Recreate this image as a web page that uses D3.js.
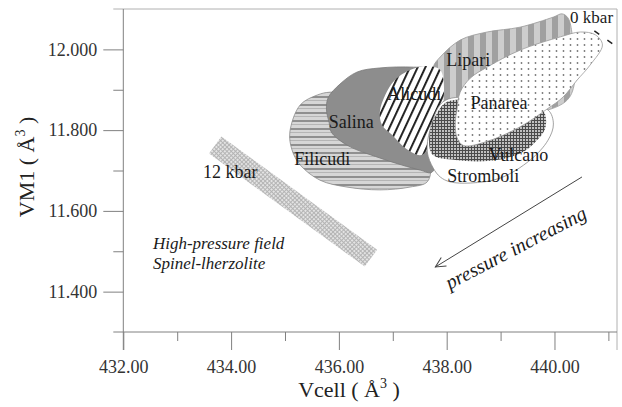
<!DOCTYPE html>
<html>
<head>
<meta charset="utf-8">
<script src="https://cdn.jsdelivr.net/npm/d3@7"></script>
<style>
  body { margin: 0; background: #fff; }
  svg { display: block; font-family: "Liberation Serif", "Times New Roman", serif; }
</style>
</head>
<body>
<svg id="chart" width="622" height="407"></svg>
<script>
// axis ticks
const xTicks = [432, 434, 436, 438, 440];
const xMinorTicks = [433, 435, 437, 439, 441];
const yTicks = [11.4, 11.6, 11.8, 12.0];
const yMinorTicks = [11.5, 11.7, 11.9];

// field outlines, [Vcell, VM1]
const filicudi = [[435.09,11.795],[435.28,11.862],[435.60,11.887],[435.84,11.894],[436.39,11.887],[437.14,11.825],
  [437.69,11.714],[437.64,11.672],[437.32,11.659],[436.76,11.652],[436.15,11.659],[435.65,11.676],[435.28,11.714],[435.13,11.751]];
const salina = [[435.80,11.880],[436.02,11.914],[436.34,11.944],[436.76,11.954],[437.38,11.956],[437.79,11.949],
  [437.88,11.825],[437.73,11.696],[437.51,11.701],[436.76,11.731],[436.15,11.763],[435.86,11.795],[435.82,11.818],[435.77,11.850]];
const lipari = [[437.75,11.870],[437.75,11.956],[437.88,11.981],[438.25,12.023],[438.75,12.043],[439.36,12.055],[439.98,12.080],
  [440.14,12.088],[440.25,12.078],[440.33,12.036],[440.38,11.924],[440.24,11.875],[439.73,11.845],[438.44,11.840],[437.95,11.850]];
const alicudi = [[436.76,11.845],[436.86,11.887],[437.04,11.924],[437.32,11.949],[437.64,11.959],[437.88,11.949],[437.95,11.904],
  [437.92,11.862],[437.79,11.800],[437.64,11.751],[437.51,11.738],[437.23,11.756],[436.99,11.788],[436.80,11.813]];
const stromboli = [[437.93,11.870],[437.69,11.800],[437.64,11.746],[437.75,11.706],[437.88,11.684],[438.06,11.672],[438.44,11.669],
  [438.99,11.681],[439.55,11.726],[439.88,11.775],[439.98,11.815],[439.88,11.850],[439.36,11.862],[438.44,11.882]];
const vulcano = [[438.01,11.870],[437.80,11.837],[437.69,11.800],[437.73,11.740],[438.16,11.726],[438.81,11.724],[439.36,11.742],
  [439.64,11.770],[439.83,11.805],[439.79,11.848],[439.36,11.860],[438.62,11.872]];
const panarea = [[438.19,11.850],[438.25,11.894],[438.44,11.929],[438.75,11.956],[439.36,11.998],[440.11,12.031],[440.48,12.043],
  [440.76,12.036],[440.89,12.011],[440.66,11.961],[440.42,11.924],[440.16,11.882],[439.86,11.852],[439.36,11.808],[438.75,11.772],
  [438.31,11.762],[438.19,11.782],[438.16,11.820]];
const highPressureBand = [[433.82,11.784],[436.71,11.504],[436.48,11.462],[433.59,11.742]];
const pressureArrow = [[440.51,11.684],[437.79,11.461]];
const zeroKbarLine = [[440.74,12.046],[441.16,12.006]];

// field labels
const labelNames = ["Filicudi", "Salina", "Alicudi", "Lipari", "Panarea", "Vulcano", "Stromboli"];
const labelX = [435.69, 436.23, 437.40, 438.40, 438.97, 439.33, 438.68];
const labelY = [11.714, 11.805, 11.875, 11.959, 11.852, 11.724, 11.672];

const svg = d3.select("#chart");

const x = d3.scaleLinear().domain([432, 441.16]).range([123.3, 617]);
const y = d3.scaleLinear().domain([11.3, 12.1]).range([332, 9]);

// patterns
const defs = svg.append("defs");
function pattern(id, w, h, tf) {
  const p = defs.append("pattern").attr("id", id)
    .attr("patternUnits", "userSpaceOnUse").attr("width", w).attr("height", h);
  if (tf) p.attr("patternTransform", tf);
  return p;
}
let p = pattern("pFil", 8, 8);
p.append("rect").attr("width", 8).attr("height", 8).attr("fill", "#d6d6d6");
p.append("rect").attr("width", 8).attr("height", 2).attr("fill", "#8f8f8f");
p.append("rect").attr("y", 4).attr("width", 8).attr("height", 1).attr("fill", "#b5b5b5");

p = pattern("pAli", 7, 8, "rotate(25)");
p.append("rect").attr("width", 7).attr("height", 8).attr("fill", "#fff");
p.append("rect").attr("width", 1.9).attr("height", 8).attr("fill", "#1a1a1a");

p = pattern("pLip", 12, 10);
p.append("rect").attr("width", 12).attr("height", 10).attr("fill", "#cdcdcd");
p.append("rect").attr("width", 6).attr("height", 10).attr("fill", "#a0a0a0");

p = pattern("pPan", 7, 6);
p.append("rect").attr("width", 7).attr("height", 6).attr("fill", "#fff");
p.append("circle").attr("cx", 3.5).attr("cy", 3).attr("r", 0.9).attr("fill", "#777");

p = pattern("pVul", 3, 3);
p.append("rect").attr("width", 3).attr("height", 3).attr("fill", "#c0c0c0");
p.append("rect").attr("width", 1).attr("height", 3).attr("fill", "#4a4a4a");
p.append("rect").attr("width", 3).attr("height", 1).attr("fill", "#4a4a4a");

p = pattern("pBand", 3, 3, "rotate(45)");
p.append("rect").attr("width", 3).attr("height", 3).attr("fill", "#e4e4e4");
p.append("rect").attr("width", 1).attr("height", 3).attr("fill", "#b4b4b4");
p.append("rect").attr("width", 3).attr("height", 1).attr("fill", "#b4b4b4");

defs.append("marker").attr("id", "arrowHead")
  .attr("viewBox", "0 0 12 12").attr("refX", 11).attr("refY", 6)
  .attr("markerWidth", 12).attr("markerHeight", 12)
  .attr("markerUnits", "userSpaceOnUse").attr("orient", "auto")
  .append("path").attr("d", "M1,1 L11,6 L1,11")
  .attr("fill", "none").attr("stroke", "#444").attr("stroke-width", 1);

// frame + axes lines
const frame = svg.append("g").attr("stroke-width", 1);
frame.append("line").attr("x1", x(432) - 10).attr("x2", x(441.16)).attr("y1", y(12.1)).attr("y2", y(12.1)).attr("stroke", "#b0b0b0");
frame.append("line").attr("x1", x(441.16)).attr("x2", x(441.16)).attr("y1", y(12.1)).attr("y2", y(11.3) + 18).attr("stroke", "#b0b0b0");
frame.append("line").attr("x1", x(432) - 10).attr("x2", x(441.16)).attr("y1", y(11.3)).attr("y2", y(11.3)).attr("stroke", "#808080");
frame.append("line").attr("x1", x(432)).attr("x2", x(432)).attr("y1", y(12.1)).attr("y2", y(11.3) + 18).attr("stroke", "#808080");

function styleAxis(g) {
  g.select(".domain").remove();
  g.selectAll(".tick line").attr("stroke", "#808080");
  g.selectAll("text").attr("fill", "#333").attr("font-size", 18)
    .attr("font-family", "'Liberation Serif', serif");
}

svg.append("g").attr("transform", `translate(0,${y(11.3)})`)
  .call(d3.axisBottom(x).tickValues(xTicks).tickSize(18).tickPadding(10).tickFormat(d3.format(".2f")))
  .call(styleAxis);
svg.append("g").attr("transform", `translate(0,${y(11.3)})`)
  .call(d3.axisBottom(x).tickValues(xMinorTicks).tickSize(9).tickFormat(""))
  .call(styleAxis);
svg.append("g").attr("transform", `translate(${x(432)},0)`)
  .call(d3.axisLeft(y).tickValues(yTicks).tickSize(20).tickPadding(6).tickFormat(d3.format(".3f")))
  .call(styleAxis);
svg.append("g").attr("transform", `translate(${x(432)},0)`)
  .call(d3.axisLeft(y).tickValues(yMinorTicks).tickSize(10).tickFormat(""))
  .call(styleAxis);

// axis titles
const xt = svg.append("text").attr("x", 349).attr("y", 397).attr("text-anchor", "middle")
  .attr("font-size", 22).attr("fill", "#222");
xt.append("tspan").text("Vcell ( Å");
xt.append("tspan").attr("font-size", 14).attr("dy", -9).text("3");
xt.append("tspan").attr("dy", 9).text(" )");

const yt = svg.append("text").attr("transform", "translate(34,167) rotate(-90)").attr("text-anchor", "middle")
  .attr("font-size", 22).attr("fill", "#222");
yt.append("tspan").text("VM1 ( Å");
yt.append("tspan").attr("font-size", 14).attr("dy", -9).text("3");
yt.append("tspan").attr("dy", 9).text(" )");

// fields
const blob = d3.line().x(d => x(d[0])).y(d => y(d[1])).curve(d3.curveCatmullRomClosed.alpha(0.5));
const poly = d3.line().x(d => x(d[0])).y(d => y(d[1])).curve(d3.curveLinearClosed);

svg.append("path").attr("d", poly(highPressureBand)).attr("fill", "url(#pBand)");

const fields = [
  { pts: filicudi, fill: "url(#pFil)", stroke: "#8a8a8a" },
  { pts: salina, fill: "#8d8d8d", stroke: "#7a7a7a" },
  { pts: lipari, fill: "url(#pLip)", stroke: "#9a9a9a" },
  { pts: alicudi, fill: "url(#pAli)", stroke: "none" },
  { pts: stromboli, fill: "#fff", stroke: "#8a8a8a" },
  { pts: vulcano, fill: "url(#pVul)", stroke: "none" },
  { pts: panarea, fill: "url(#pPan)", stroke: "#999" }
];
svg.append("g").selectAll("path").data(fields).join("path")
  .attr("d", d => blob(d.pts))
  .attr("fill", d => d.fill)
  .attr("stroke", d => d.stroke)
  .attr("stroke-width", 0.8);

// labels
svg.append("g").selectAll("text").data(labelNames).join("text")
  .attr("x", (d, i) => x(labelX[i]))
  .attr("y", (d, i) => y(labelY[i]))
  .attr("text-anchor", "middle")
  .attr("font-size", 18)
  .attr("fill", "#1a1a1a")
  .text(d => d);

svg.append("text").attr("x", x(440.29)).attr("y", y(12.065)).attr("font-size", 17).attr("fill", "#1a1a1a").text("0 kbar");
svg.append("path").attr("d", d3.line().x(d => x(d[0])).y(d => y(d[1]))(zeroKbarLine))
  .attr("stroke", "#222").attr("stroke-width", 1.5).attr("stroke-dasharray", "6,10").attr("fill", "none");

svg.append("text").attr("x", x(433.48)).attr("y", y(11.681)).attr("font-size", 18).attr("fill", "#1a1a1a").text("12 kbar");
svg.append("text").attr("x", x(432.55)).attr("y", y(11.505)).attr("font-size", 17).attr("font-style", "italic")
  .attr("fill", "#1a1a1a").text("High-pressure field");
svg.append("text").attr("x", x(432.55)).attr("y", y(11.457)).attr("font-size", 17).attr("font-style", "italic")
  .attr("fill", "#1a1a1a").text("Spinel-lherzolite");

// pressure arrow
svg.append("line")
  .attr("x1", x(pressureArrow[0][0])).attr("y1", y(pressureArrow[0][1]))
  .attr("x2", x(pressureArrow[1][0])).attr("y2", y(pressureArrow[1][1]))
  .attr("stroke", "#444").attr("stroke-width", 1).attr("marker-end", "url(#arrowHead)");
svg.append("text")
  .attr("transform", `translate(${x(439.34)},${y(11.494)}) rotate(-27.6)`)
  .attr("text-anchor", "middle").attr("font-size", 20).attr("font-style", "italic")
  .attr("fill", "#1a1a1a").text("pressure increasing");
</script>
</body>
</html>
